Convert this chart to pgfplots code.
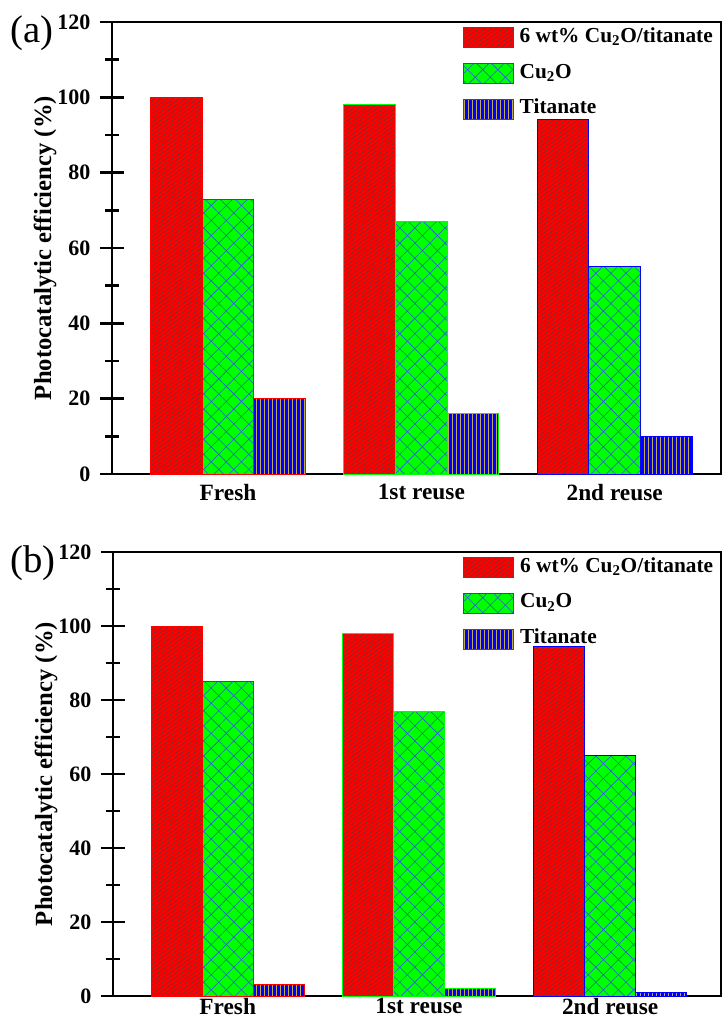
\documentclass[border=0pt]{standalone}
\usepackage{fontspec}
\setmainfont{Liberation Serif}
\usepackage{pgfplots}
\pgfplotsset{compat=1.18}
\usetikzlibrary{patterns.meta}

\definecolor{hatchblue}{RGB}{40,100,200}
\definecolor{stripe}{RGB}{190,170,90}

\pgfplotsset{
  redbar/.style={fill=red, line width=0.7pt,
    postaction={pattern={Lines[angle=35,distance=2.6pt,line width=0.25pt]}, pattern color=black!75}},
  greenbar/.style={fill=green, line width=0.7pt,
    postaction={pattern={Lines[angle=45,distance=8pt,line width=0.45pt]}, pattern color=hatchblue},
    postaction={pattern={Lines[angle=-45,distance=8pt,line width=0.45pt]}, pattern color=hatchblue}},
  bluebar/.style={fill=blue, line width=0.7pt,
    postaction={pattern={Lines[angle=90,distance=3pt,line width=0.6pt]}, pattern color=stripe}},
  panel/.style={
    scale only axis,
    ybar, bar width=0.267,
    ymin=0, ymax=120, ytick={0,20,...,120}, minor y tick num=1,
    xmin=0.4,
    xtick={1,2,3}, xticklabels={Fresh,1st reuse,2nd reuse},
    xtick style={draw=none},
    ytick pos=left,
    tick align=center,
    major tick length=18pt, minor tick length=10.5pt,
    tick style={line width=2pt, black},
    axis line style={line width=2.2pt},
    /pgf/number format/assume math mode=true,
    yticklabel style={font=\fontsize{16.5}{18}\selectfont\bfseries, xshift=-3.75pt},
    xticklabel style={font=\fontsize{17.5}{19}\selectfont\bfseries, inner sep=0pt, yshift=1.5pt},
    ylabel={Photocatalytic efficiency (\%)},
    every axis y label/.style={at={(axis description cs:-0.11,0.5)}, rotate=90, anchor=center,
      font=\fontsize{18.5}{20}\selectfont\bfseries},
    legend cell align=left,
    legend image code/.code={\draw[##1] (0pt,-7.5pt) rectangle (37.5pt,7.5pt);},
    legend style={draw=none, fill=none, at={(0.576,0.989)}, anchor=north west,
      inner sep=0pt, outer sep=0pt, row sep=11.25pt,
      font=\fontsize{16}{18}\selectfont\bfseries,
      nodes={inner sep=0pt, text height=11pt, text depth=4pt},
      /tikz/every odd column/.append style={column sep=4.5pt}},
  },
}

\begin{document}
\begin{tikzpicture}
\useasboundingbox (0,0) rectangle (545.25pt,-765pt);

% panel (a)
\begin{axis}[panel, at={(84pt,-355.5pt)}, anchor=south west,
  width=456.75pt, height=339pt, xmax=3.55]
\addplot[redbar, draw=red, bar shift=-0.267] coordinates {(1,100)};
\addlegendentry{6 wt\% Cu\textsubscript{2}O/titanate}
\addplot[greenbar, draw=red, bar shift=0] coordinates {(1,73)};
\addlegendentry{Cu\textsubscript{2}O}
\addplot[bluebar, draw=red, bar shift=0.267] coordinates {(1,20)};
\addlegendentry{Titanate}
\addplot[redbar, draw=green, bar shift=-0.267, forget plot] coordinates {(2,98)};
\addplot[greenbar, draw=green, bar shift=0, forget plot] coordinates {(2,67)};
\addplot[bluebar, draw=green, bar shift=0.267, forget plot] coordinates {(2,16)};
\addplot[redbar, draw=blue, bar shift=-0.267, forget plot] coordinates {(3,94)};
\addplot[greenbar, draw=blue, bar shift=0, forget plot] coordinates {(3,55)};
\addplot[bluebar, draw=blue, bar shift=0.267, forget plot] coordinates {(3,10)};
\end{axis}

% panel (b)
\begin{axis}[panel, at={(84.75pt,-747pt)}, anchor=south west,
  width=456pt, height=333pt, xmax=3.58,
  xticklabel style={yshift=6pt}]
\addplot[redbar, draw=red, bar shift=-0.267] coordinates {(1,100)};
\addlegendentry{6 wt\% Cu\textsubscript{2}O/titanate}
\addplot[greenbar, draw=red, bar shift=0] coordinates {(1,85)};
\addlegendentry{Cu\textsubscript{2}O}
\addplot[bluebar, draw=red, bar shift=0.267] coordinates {(1,3)};
\addlegendentry{Titanate}
\addplot[redbar, draw=green, bar shift=-0.267, forget plot] coordinates {(2,98)};
\addplot[greenbar, draw=green, bar shift=0, forget plot] coordinates {(2,77)};
\addplot[bluebar, draw=green, bar shift=0.267, forget plot] coordinates {(2,2)};
\addplot[redbar, draw=blue, bar shift=-0.267, forget plot] coordinates {(3,94.5)};
\addplot[greenbar, draw=blue, bar shift=0, forget plot] coordinates {(3,65)};
\addplot[bluebar, draw=blue, bar shift=0.267, forget plot] coordinates {(3,1)};
\end{axis}

\node[anchor=west, inner sep=0pt, font=\fontsize{29}{30}\selectfont] at (7.5pt,-24.75pt) {(a)};
\node[anchor=west, inner sep=0pt, font=\fontsize{29}{30}\selectfont] at (7.5pt,-422.25pt) {(b)};
\end{tikzpicture}
\end{document}
